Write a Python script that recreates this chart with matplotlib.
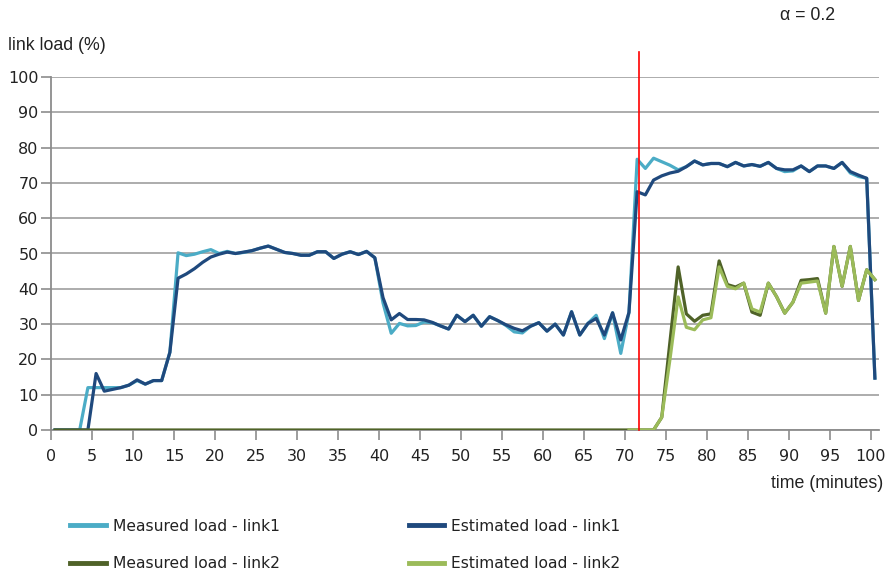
import numpy as np
import matplotlib
matplotlib.use("Agg")
import matplotlib.pyplot as plt
from matplotlib.lines import Line2D

# ---- data: link load (%) sampled once a minute, centred on each minute ----
measured_link1 = [
    0, 0, 0, 0, 12, 12, 12, 12, 12, 12.7,
    14, 13, 14, 14, 22, 50.2, 49.4, 49.8, 50.5, 51.1,
    50, 50.6, 50, 50.3, 50.8, 51.5, 52.1, 51.2, 50.3, 50,
    49.5, 49.5, 50.5, 50.5, 48.6, 49.8, 50.5, 49.7, 50.6, 48.8,
    36, 27.4, 30.2, 29.5, 29.6, 30.6, 30.4, 29.5, 28.6, 32.5,
    30.7, 32.5, 29.4, 32.1, 31, 29.6, 27.8, 27.5, 29.4, 30.4,
    28, 30, 26.9, 33.5, 26.9, 30.2, 32.5, 25.9, 33.2, 21.7,
    33.3, 76.7, 74.1, 77, 76, 75, 73.7, 74.6, 76.2, 75.1,
    75.5, 75.5, 74.6, 75.8, 74.8, 75.2, 74.7, 75.8, 74.1, 73.2,
    73.4, 74.8, 73.2, 74.8, 74.8, 74.1, 75.8, 72.8, 71.8, 71.3,
    14.7,
]
estimated_link1 = [
    0, 0, 0, 0, 0, 16, 11, 11.5, 12, 12.7,
    14.2, 13, 14, 14, 22, 43, 44.2, 45.7, 47.5, 49,
    49.8, 50.4, 50, 50.4, 50.8, 51.5, 52.1, 51.2, 50.3, 50,
    49.5, 49.5, 50.5, 50.5, 48.6, 49.8, 50.5, 49.7, 50.6, 48.8,
    37.5, 31.2, 33, 31.3, 31.3, 31.2, 30.5, 29.5, 28.6, 32.5,
    30.7, 32.5, 29.4, 32.1, 31, 29.8, 28.8, 28.1, 29.4, 30.4,
    28, 30, 26.9, 33.5, 26.9, 30.2, 31.6, 26.9, 33.2, 25.5,
    33.3, 67.5, 66.6, 70.8, 72, 72.8, 73.3, 74.6, 76.2, 75.1,
    75.5, 75.5, 74.6, 75.8, 74.8, 75.2, 74.7, 75.8, 74.1, 73.7,
    73.7, 74.8, 73.2, 74.8, 74.8, 74.1, 75.8, 73.2, 72.2, 71.3,
    14.7,
]
# link2 carries no traffic until minute 73
measured_link2_tail = [
    0, 3.6, 25, 46.2, 32.9, 30.8, 32.5, 32.9, 47.9, 41.2,
    40.5, 41.6, 33.4, 32.5, 41.6, 37.8, 33.1, 36.2, 42.4, 42.6,
    42.9, 33.1, 52, 40.7, 52, 36.7, 45.4, 42.6,
]
estimated_link2_tail = [
    0, 3.6, 20, 37.7, 29.1, 28.4, 31.2, 31.8, 46.2, 40.7,
    40, 41.6, 34.3, 33.4, 41.6, 37.8, 33.1, 36.2, 41.6, 41.9,
    42.2, 33.1, 52, 40.7, 52, 36.7, 45.4, 42.6,
]
measured_link2 = [0] * 73 + measured_link2_tail
estimated_link2 = [np.nan] * 70 + [0, 0, 0] + estimated_link2_tail

time_min = np.arange(len(measured_link1)) + 0.5
switch_time = 71.7          # moment of the rerouting decision
alpha_text = "α = 0.2"

x_ticks = list(range(0, 101, 5))
y_ticks = list(range(0, 101, 10))

# ---- styling ----
C_M1 = "#4bacc6"
C_E1 = "#1f497d"
C_M2 = "#4f6228"
C_E2 = "#9bbb59"
GRID = "#a6a6a6"
AXIS = "#8c8c8c"

plt.rcParams["font.family"] = ["DejaVu Sans"]
narrow = ["Liberation Sans Narrow", "Liberation Sans", "DejaVu Sans"]

W, H = 896, 574
fig = plt.figure(figsize=(W / 100, H / 100), dpi=100)
ax = fig.add_axes([51 / W, 144 / H, (879 - 51) / W, (430 - 77) / H])

lw = 2.3
ax.plot(time_min, measured_link1, color=C_M1, lw=lw, solid_joinstyle="round", zorder=3)
ax.plot(time_min, estimated_link1, color=C_E1, lw=lw, solid_joinstyle="round", zorder=4)
ax.plot(time_min, measured_link2, color=C_M2, lw=lw, solid_joinstyle="round", zorder=5)
ax.plot(time_min, estimated_link2, color=C_E2, lw=lw, solid_joinstyle="round", zorder=6)

ax.plot([switch_time, switch_time], [0, 107], color="#ff0000", lw=1.2,
        clip_on=False, zorder=7)

ax.set_xlim(0, 101)
ax.set_ylim(0, 100)
ax.set_xticks(x_ticks)
ax.set_yticks(y_ticks)
ax.tick_params(axis="both", direction="out", length=7, width=1.2, color=AXIS,
               labelsize=11.5, labelcolor="#222222")
ax.tick_params(axis="y", pad=2)
ax.tick_params(axis="x", pad=7)
ax.yaxis.grid(True, color=GRID, lw=1.3)
ax.set_axisbelow(True)
for s in ("top", "right"):
    ax.spines[s].set_visible(False)
for s in ("left", "bottom"):
    ax.spines[s].set_color(AXIS)
    ax.spines[s].set_linewidth(1.3)

fig.text(8 / W, 1 - 45 / H, "link load (%)", family=narrow, fontsize=12.8,
         ha="left", va="center", color="#222222")
fig.text(883 / W, 1 - 484 / H, "time (minutes)", family=narrow, fontsize=12.8,
         ha="right", va="center", color="#222222")
fig.text(808 / W, 1 - 15 / H, alpha_text, family=narrow, fontsize=12.8,
         ha="center", va="center", color="#222222")

handles = [
    Line2D([], [], color=C_M1, lw=3.5),
    Line2D([], [], color=C_M2, lw=3.5),
    Line2D([], [], color=C_E1, lw=3.5),
    Line2D([], [], color=C_E2, lw=3.5),
]
labels = ["Measured load - link1", "Measured load - link2",
          "Estimated load - link1", "Estimated load - link2"]
fig.legend(handles, labels, ncol=2, loc="upper left",
           bbox_to_anchor=(62 / W, 1 - 511 / H), frameon=False,
           fontsize=11.2, handlelength=2.3, handletextpad=0.45,
           columnspacing=8.3, labelspacing=1.45, borderpad=0,
           labelcolor="#222222")

fig.savefig("out.png", dpi=100)
